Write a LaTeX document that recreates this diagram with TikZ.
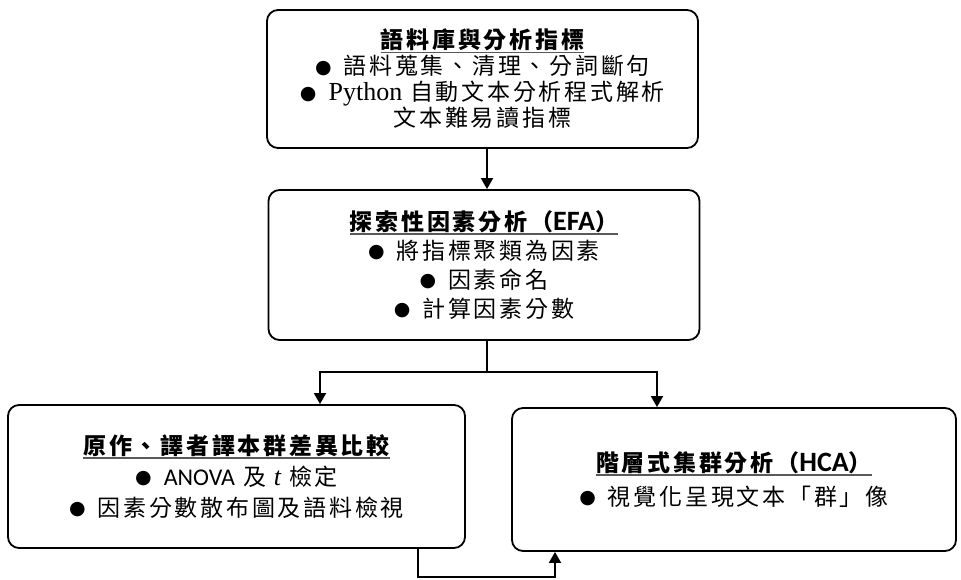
\documentclass[tikz,border=0pt]{standalone}
\usepackage{fontspec}
\setmainfont{Noto Sans CJK TC}[LetterSpace=12]
\newfontfamily\lsans{Carlito}
\newfontfamily\lserif{Liberation Serif}
\newfontfamily\symf{DejaVu Sans}
\usetikzlibrary{arrows.meta,calc}
\newcommand\bul{\raisebox{1.5pt}{\symf\fontsize{19pt}{19pt}\selectfont ●}\hspace{12pt}}
\newcommand\ttl[1]{\setbox0\hbox{\bfseries #1}\leavevmode\rlap{\color{black!65}\rule[-4.5pt]{\wd0}{1.6pt}}\box0}
\newcommand\lat[1]{{\lsans\fontsize{24pt}{24pt}\selectfont #1}}
\newcommand\latb[1]{{\lsans\bfseries\fontsize{28pt}{28pt}\selectfont #1}}
\begin{document}
\begin{tikzpicture}[x=1pt,y=-1pt,
  box/.style={draw, line width=1.8pt, rounded corners=11pt, align=center, inner sep=0pt},
  conn/.style={line width=1.8pt},
  arr/.style={conn, -{Triangle[width=12pt,length=11pt]}}]
\useasboundingbox (0,0) rectangle (961,579);
\node[box, minimum width=431pt, minimum height=138pt, font=\fontsize{23pt}{26pt}\selectfont] (b1) at (482.5,79)
  {\ttl{語料庫與分析指標}\\ \bul 語料蒐集、清理、分詞斷句\\ \bul {\lserif\fontsize{26pt}{26pt}\selectfont Python} 自動文本分析程式解析\\ 文本難易讀指標};
\node[box, minimum width=431pt, minimum height=150pt, font=\fontsize{23pt}{29pt}\selectfont] (b2) at (484,265)
  {\ttl{探索性因素分析（\latb{EFA}）}\\ \bul 將指標聚類為因素\\ \bul 因素命名\\ \bul 計算因素分數};
\node[box, minimum width=457pt, minimum height=143pt, font=\fontsize{23pt}{31pt}\selectfont] (b3) at (236.5,476.5)
  {\ttl{原作、譯者譯本群差異比較}\\ \bul \lat{ANOVA} 及 {\lserif\itshape\fontsize{26pt}{26pt}\selectfont t} 檢定\\ \bul 因素分數散布圖及語料檢視};
\node[box, minimum width=444pt, minimum height=143pt, font=\fontsize{23pt}{34pt}\selectfont] (b4) at (734,479.5)
  {\ttl{階層式集群分析（\latb{HCA}）}\\ \bul 視覺化呈現文本「群」像};
\coordinate (j) at (487,372);
\coordinate (l) at (320,372);
\coordinate (r) at (657,372);
\coordinate (p) at (418,577);
\coordinate (q) at (555,577);
\draw[arr] (b1.south -| j) -- (b2.north -| j);
\draw[conn] (b2.south -| j) -- (j);
\draw[arr] (j) -| (b3.north -| l);
\draw[arr] (j) -| (b4.north -| r);
\draw[arr] (b3.south -| p) |- (q) -- (b4.south -| q);
\end{tikzpicture}
\end{document}
